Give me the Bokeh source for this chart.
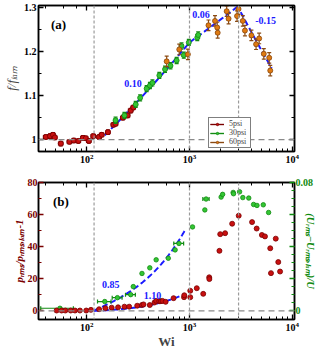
import numpy as np
from bokeh.plotting import figure
from bokeh.models import (Range1d, LinearAxis, LogAxis, LogTicker, FixedTicker, Span, Label,
                          Legend, LegendItem, CustomJSTickFormatter)
from bokeh.layouts import column
from bokeh.embed import file_html
from bokeh.resources import INLINE

# ---------------- data: panel (a)  f/f_lam vs Wi ----------------
wi_5psi = [40, 44, 47, 49, 56, 68, 75, 83, 92, 98, 105, 116, 132, 140, 161, 182, 191, 225, 250, 268, 284]
ff_5psi = [1.006, 1.008, 1.011, 1.005, 0.991, 0.995, 0.998, 0.997, 1.004, 1.003, 0.997, 1.008,
           1.006, 1.011, 1.017, 1.034, 1.036, 1.050, 1.055, 1.066, 1.073]
wi_30psi = [191, 233, 300, 331, 383, 412, 436, 509, 578, 653, 750, 836, 880, 985, 1190, 1215]
ff_30psi = [1.044, 1.055, 1.080, 1.095, 1.116, 1.123, 1.129, 1.146, 1.160, 1.168, 1.180, 1.213,
            1.192, 1.221, 1.232, 1.238]
wi_60psi = [600, 795, 965, 1530, 1770, 1860, 1880, 2300, 2400, 2900, 3000, 3300, 3460, 4000,
            4440, 4760, 5280, 5960, 6100]
ff_60psi = [1.178, 1.205, 1.194, 1.260, 1.270, 1.255, 1.243, 1.292, 1.275, 1.281, 1.297, 1.270,
            1.248, 1.237, 1.217, 1.230, 1.195, 1.186, 1.157]
xerr_a = {"5psi": 0.05, "30psi": 0.03, "60psi": 0.03}      # relative Wi error
yerr_a = {"5psi": 0.005, "30psi": 0.007, "60psi": 0.012}   # f/f_lam error

# power-law fit segments f = f0 (Wi/Wi0)^n
fit_a_start = [150, 1000, 3150]
fit_a_end = [1000, 3000, 6300]
fit_a_f0 = [1.010, 1.221, 1.290]
fit_a_exp = [0.10, 0.06, -0.15]

# ---------------- data: panel (b) ----------------
wi_p5 = [51, 57, 62, 70, 77, 86, 99, 110, 132, 152, 175, 202, 233, 259, 310, 344, 357, 411, 457,
         474, 508, 527, 547, 586, 700, 885, 890, 1017, 1017, 1177, 1360, 1555, 1560, 1955, 1990,
         2220, 2600, 3010, 4060, 4500, 5060, 5420, 6100, 6200, 6900, 7300, 7600]
prms_5 = [0.2, 0.2, 0.2, 0.2, 0.2, 0.2, 0.2, 0.6, 1.0, 1.6, 2.0, 2.2, 2.6, 2.6, 3.2, 3.6, 4.0, 3.6,
          5.2, 6.2, 6.0, 6.0, 6.2, 5.6, 7.9, 8.5, 9.7, 12.5, 8.5, 14.1, 10.6, 20.9, 19.8, 37.4, 47.8,
          48.4, 54.3, 59.3, 55.3, 51.3, 47.3, 46.4, 39.0, 23.5, 45.0, 30.4, 24.5]
wi_u30 = [55, 150, 199, 268, 284, 345, 411, 474, 622, 725, 790, 1070, 1410, 1450, 2030, 2100,
          2660, 2680, 3070, 3300, 3770, 4200, 4530, 5220, 5880]
urms_30 = [0.0016, 0.0058, 0.0082, 0.0101, 0.0151, 0.0233, 0.0268, 0.0318, 0.0328, 0.0380, 0.0420,
           0.0523, 0.0629, 0.0697, 0.0709, 0.0726, 0.0738, 0.0730, 0.0742, 0.0706, 0.0703, 0.0663,
           0.0657, 0.0661, 0.0613]
xerr_u30 = [0.35, 0.15, 0.11, 0.11, 0, 0, 0, 0, 0, 0, 0.11, 0, 0, 0.07, 0, 0, 0, 0, 0, 0, 0, 0,
            0, 0, 0]

# fits  y = A (Wi - Wi_c)^n
wi_c = 118
fit_b_end = 900
fit_b_p_A, fit_b_p_n = 0.00695, 1.10
fit_b_u_A, fit_b_u_n = 0.000174, 0.85

vlines_wi = [118, 1000, 3000]

FONT = "Liberation Serif"
BLUE = "#1a1aff"
RED_F, RED_E = "#c81010", "#7a0000"
GRN_F, GRN_E = "#33c633", "#138a13"
ORG_F, ORG_E = "#e07a10", "#8a4a12"
DARKRED = "#7a0000"
DARKGRN = "#0f8a0f"
EMPTY = "return '';"


def style_axis(ax, color="black", labels=True, size="10px"):
    ax.major_tick_in = 5
    ax.major_tick_out = 0
    ax.minor_tick_in = 3
    ax.minor_tick_out = 0
    ax.major_tick_line_color = color
    ax.minor_tick_line_color = color
    ax.major_tick_line_width = 1.3
    ax.minor_tick_line_width = 1
    ax.axis_line_color = "black"
    ax.axis_line_width = 1.5
    ax.major_label_text_font = FONT
    ax.major_label_text_font_style = "bold"
    ax.major_label_text_color = color
    ax.major_label_text_font_size = size
    ax.major_label_standoff = 2 if labels else 0
    if not labels:
        ax.formatter = CustomJSTickFormatter(code=EMPTY)


def add_series(p, wi, yv, xe, ye, fill, edge, yname="default", size=5):
    wi = np.asarray(wi, float)
    yv = np.asarray(yv, float)
    xe = np.broadcast_to(np.asarray(xe, float), wi.shape)
    ye = np.broadcast_to(np.asarray(ye, float), wi.shape)
    rs = []
    m = xe > 0
    if m.any():
        lo, hi = wi[m] * (1 - xe[m]), wi[m] * (1 + xe[m])
        rs.append(p.segment(x0=lo, x1=hi, y0=yv[m], y1=yv[m], line_color=edge, line_width=1.2,
                            y_range_name=yname))
        p.scatter(x=np.concatenate([lo, hi]), y=np.concatenate([yv[m], yv[m]]), marker="dash",
                  angle=np.pi / 2, size=4, line_color=edge, line_width=1.2, y_range_name=yname)
    m = ye > 0
    if m.any():
        lo, hi = yv[m] - ye[m], yv[m] + ye[m]
        rs.append(p.segment(x0=wi[m], x1=wi[m], y0=lo, y1=hi, line_color=edge, line_width=1.2,
                            y_range_name=yname))
        p.scatter(x=np.concatenate([wi[m], wi[m]]), y=np.concatenate([lo, hi]), marker="dash",
                  size=4, line_color=edge, line_width=1.2, y_range_name=yname)
    rs.append(p.scatter(x=wi, y=yv, size=size, fill_color=fill, line_color=edge, line_width=0.8,
                        y_range_name=yname))
    return rs


def base_fig(height, yr, top, bottom):
    p = figure(width=319, height=height, x_axis_type="log",
               x_range=Range1d(34, 10500), y_range=yr, output_backend="svg",
               toolbar_location=None, min_border_left=28, min_border_right=22,
               min_border_top=top, min_border_bottom=bottom)
    p.grid.visible = False
    p.outline_line_color = "black"
    p.outline_line_width = 1.5
    p.background_fill_color = "white"
    p.border_fill_color = "white"
    for wv in vlines_wi:
        p.add_layout(Span(location=wv, dimension="height", line_dash="3 2", line_color="#9a9a9a",
                          line_width=1.2))
    top_ax = LogAxis(ticker=LogTicker())
    style_axis(top_ax, labels=False)
    p.add_layout(top_ax, "above")
    bottom_ax = p.below[0]
    style_axis(bottom_ax)
    return p, bottom_ax, p.left[0]


# ---------------- panel (a) ----------------
p1, bx1, ly1 = base_fig(166, Range1d(0.973, 1.305), 5, 15)
p1.add_layout(Span(location=1.0, dimension="width", line_dash="6 4", line_color="#8a8a8a",
                   line_width=1.2))
for s, e, f0, n in zip(fit_a_start, fit_a_end, fit_a_f0, fit_a_exp):
    w = np.geomspace(s, e, 60)
    p1.line(w, f0 * (w / s) ** n, line_color=BLUE, line_dash="6 3", line_width=2)

r5 = add_series(p1, wi_5psi, ff_5psi, xerr_a["5psi"], yerr_a["5psi"], RED_F, RED_E)
r30 = add_series(p1, wi_30psi, ff_30psi, xerr_a["30psi"], yerr_a["30psi"], GRN_F, GRN_E)
r60 = add_series(p1, wi_60psi, ff_60psi, xerr_a["60psi"], yerr_a["60psi"], ORG_F, ORG_E)

ly1.ticker = FixedTicker(ticks=[1.0, 1.1, 1.2, 1.3], minor_ticks=[1.05, 1.15, 1.25])
style_axis(ly1)
ly1.formatter = CustomJSTickFormatter(code="return tick.toFixed(1).replace(/\\.0$/, '');")
ly1.axis_label = "f/fₗₐₘ"
ly1.axis_label_text_font = FONT
ly1.axis_label_text_font_style = "italic"
ly1.axis_label_text_font_size = "13px"
ly1.axis_label_standoff = 2
right_a = LinearAxis(ticker=FixedTicker(ticks=[1.0, 1.1, 1.2, 1.3], minor_ticks=[1.05, 1.15, 1.25]))
style_axis(right_a, labels=False)
p1.add_layout(right_a, "right")

legend = Legend(items=[LegendItem(label="5psi", renderers=r5),
                       LegendItem(label="30psi", renderers=r30),
                       LegendItem(label="60psi", renderers=r60)],
                location=(170, 3), label_text_font=FONT, label_text_font_size="8px",
                label_height=6, glyph_height=6, glyph_width=14, spacing=0, padding=1, margin=0,
                label_standoff=5, border_line_color="black", border_line_width=1,
                background_fill_alpha=1)
p1.add_layout(legend)


def lab(p, x, y, text, color=BLUE, size="10px", yname="default"):
    p.add_layout(Label(x=x, y=y, text=text, text_font=FONT, text_font_style="bold",
                       text_color=color, text_font_size=size, text_baseline="middle",
                       y_range_name=yname))


lab(p1, 45, 1.262, "(a)", color="black", size="13px")
lab(p1, 232, 1.128, "0.10")
lab(p1, 1066, 1.285, "0.06")
lab(p1, 4360, 1.271, "-0.15")

# ---------------- panel (b) ----------------
p2, bx2, ly2 = base_fig(185, Range1d(-5.4, 80), 16, 26)
p2.extra_y_ranges = {"u": Range1d(-0.0054, 0.080)}
p2.add_layout(Span(location=0, dimension="width", line_dash="6 4", line_color="#8a8a8a",
                   line_width=1.2))
w = np.linspace(wi_c, fit_b_end, 120)
p2.line(w, fit_b_u_A * (w - wi_c) ** fit_b_u_n, line_color=BLUE, line_dash="6 3", line_width=2,
        y_range_name="u")
p2.line(w, fit_b_p_A * (w - wi_c) ** fit_b_p_n, line_color=BLUE, line_dash="6 3", line_width=2)

add_series(p2, wi_u30, urms_30, xerr_u30, 0, GRN_F, GRN_E, yname="u", size=4.5)
add_series(p2, wi_p5, prms_5, 0, 0, RED_F, RED_E, size=5)

ly2.ticker = FixedTicker(ticks=[0, 20, 40, 60, 80], minor_ticks=[10, 30, 50, 70])
style_axis(ly2, color=DARKRED)
ly2.major_label_standoff = 1
ly2.axis_label = "pᵣₘₛ/pᵣₘₛ,ₗₐₘ-1"
ly2.axis_label_text_font = FONT
ly2.axis_label_text_font_style = "bold italic"
ly2.axis_label_text_color = DARKRED
ly2.axis_label_text_font_size = "11px"
ly2.axis_label_standoff = 0
bx2.axis_label = "Wi"
bx2.axis_label_text_font = FONT
bx2.axis_label_text_font_style = "bold"
bx2.axis_label_text_font_size = "13px"
bx2.axis_label_standoff = 0

right_b = LinearAxis(y_range_name="u",
                     ticker=FixedTicker(ticks=[0, 0.02, 0.04, 0.06, 0.08],
                                        minor_ticks=list(np.round(np.arange(0, 0.0801, 0.005), 4))))
style_axis(right_b, color=DARKGRN)
right_b.major_label_standoff = 1
right_b.formatter = CustomJSTickFormatter(
    code="if (Math.abs(tick) < 1e-9) return '0';"
         "if (Math.abs(tick - 0.08) < 1e-9) return '0.08'; return '';")
right_b.axis_label = "(Uᵣₘₛ−Uᵣₘₛ,ₗₐₘ)/U"
right_b.axis_label_text_font = FONT
right_b.axis_label_text_font_style = "bold italic"
right_b.axis_label_text_color = DARKGRN
right_b.axis_label_text_font_size = "10.5px"
right_b.axis_label_standoff = -11
p2.add_layout(right_b, "right")

lab(p2, 47, 68, "(b)", color="black", size="13px")
lab(p2, 141, 16.7, "0.85")
lab(p2, 359, 9.5, "1.10")

layout = column(p1, p2, spacing=0)
open("out.html", "w").write(file_html(layout, INLINE))
